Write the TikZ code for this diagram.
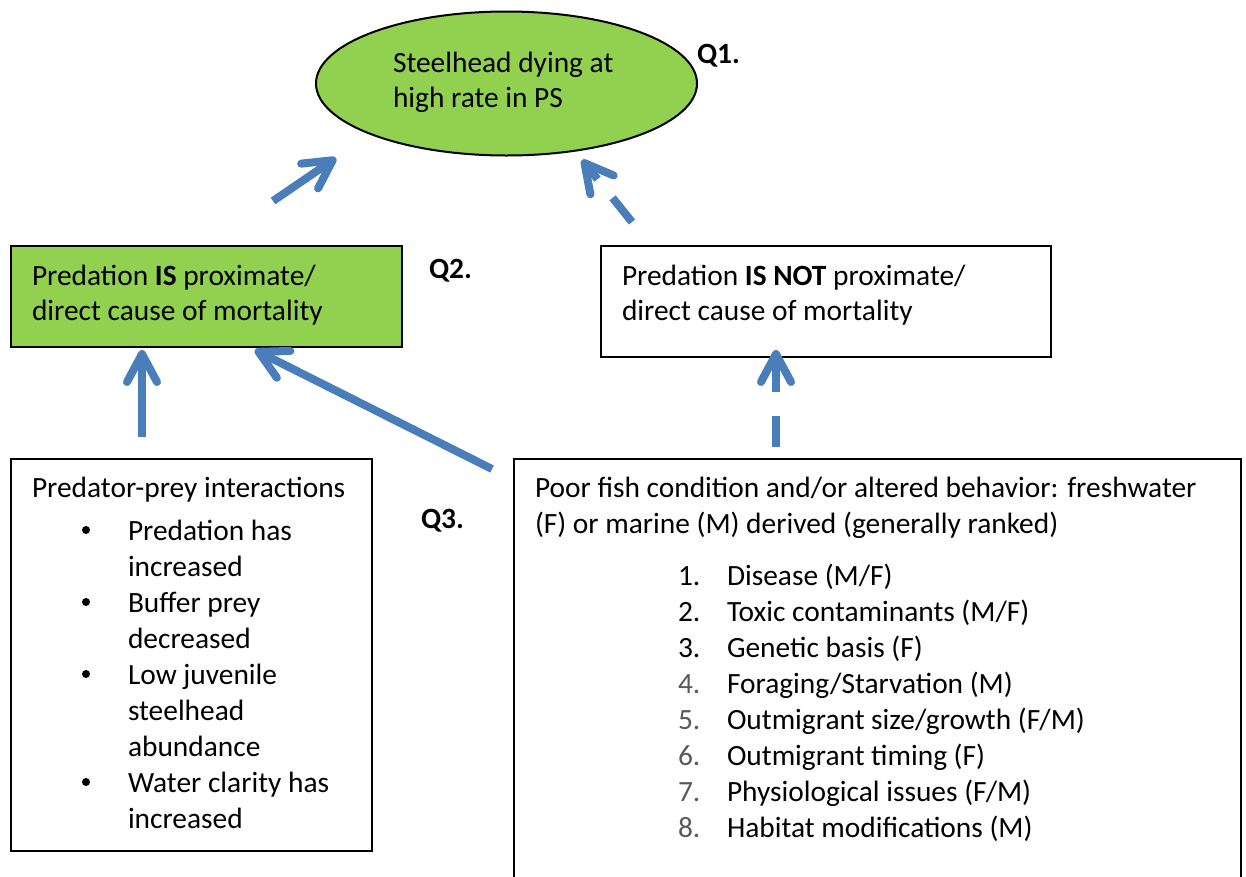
\documentclass[tikz,border=0pt]{standalone}
\usepackage{fontspec}
\setmainfont{Carlito}
\usetikzlibrary{shapes.geometric,arrows.meta}
\definecolor{leafgreen}{HTML}{92D050}
\definecolor{arrowblue}{HTML}{4A7EBB}
\definecolor{numgray}{HTML}{595959}
\tikzset{
  every node/.style={font=\fontsize{29.4}{36}\selectfont, inner sep=0pt, outer sep=0pt},
  txt/.style={anchor=base west},
  qlabel/.style={anchor=base west, font=\fontsize{29.4}{36}\selectfont\bfseries},
  boxframe/.style={draw=black, line width=2pt, rectangle, anchor=north west},
  bigarrow/.style={draw=arrowblue, line width=8pt,
    -{Straight Barb[length=28pt,width=30pt,line width=8pt,round]}},
  dasharrow/.style={bigarrow, dash pattern=on 31pt off 24pt},
}
\begin{document}
\begin{tikzpicture}[x=1pt,y=-1pt]
\clip (0,0) rectangle (1246,876);
\fill[white] (0,0) rectangle (1246,876);

% ellipse
\node[ellipse, draw=black, line width=2pt, fill=leafgreen, minimum width=381pt, minimum height=144pt] (q1) at (506.5,83.5) {};
\node[txt] (q1a) at (393,72) {Steelhead dying at};
\node[txt] (q1b) at (393,107) {high rate in PS};
\node[qlabel] (q1l) at (697,63) {Q1.};

% green box
\node[boxframe, fill=leafgreen, minimum width=391pt, minimum height=101pt] (isbox) at (11,246) {};
\node[txt] (isa) at (32,285) {Predation \textbf{IS} proximate/};
\node[txt] (isb) at (32,320) {direct cause of mortality};
\node[qlabel] (q2l) at (429,278) {Q2.};

% not box
\node[boxframe, fill=white, minimum width=450pt, minimum height=111pt] (notbox) at (601,246) {};
\node[txt] (nota) at (622,285) {Predation \textbf{IS NOT} proximate/};
\node[txt] (notb) at (622,320) {direct cause of mortality};

% predator-prey box
\node[boxframe, minimum width=361pt, minimum height=392pt] (ppbox) at (11,459) {};
\node[txt] (pp0) at (32,497) {Predator-prey interactions};
\foreach \y in {540,612,684,792}{\fill (86,\y-10) circle (4pt);}
\node[txt] (pp1) at (128,540) {Predation has};
\node[txt] (pp2) at (128,576) {increased};
\node[txt] (pp3) at (128,612) {Buffer prey};
\node[txt] (pp4) at (128,648) {decreased};
\node[txt] (pp5) at (128,684) {Low juvenile};
\node[txt] (pp6) at (128,720) {steelhead};
\node[txt] (pp7) at (128,756) {abundance};
\node[txt] (pp8) at (128,792) {Water clarity has};
\node[txt] (pp9) at (128,828) {increased};
\node[qlabel] (q3l) at (421,528) {Q3.};

% poor fish box
\node[boxframe, minimum width=727pt, minimum height=440pt] (fishbox) at (514,459) {};
\node[txt] (pf0) at (535,497) {Poor fish condition and/or altered behavior: freshwater};
\node[txt] (pf1) at (535,533) {(F) or marine (M) derived (generally ranked)};
\node[txt] (n1) at (678,585) {1.};
\node[txt] (n2) at (678,621) {2.};
\node[txt] (n3) at (678,657) {3.};
\node[txt, text=numgray] (n4) at (678,693) {4.};
\node[txt, text=numgray] (n5) at (678,729) {5.};
\node[txt, text=numgray] (n6) at (678,765) {6.};
\node[txt, text=numgray] (n7) at (678,801) {7.};
\node[txt, text=numgray] (n8) at (678,837) {8.};
\node[txt] (l1) at (727,585) {Disease (M/F)};
\node[txt] (l2) at (727,621) {Toxic contaminants (M/F)};
\node[txt] (l3) at (727,657) {Genetic basis (F)};
\node[txt] (l4) at (727,693) {Foraging/Starvation (M)};
\node[txt] (l5) at (727,729) {Outmigrant size/growth (F/M)};
\node[txt] (l6) at (727,765) {Outmigrant timing (F)};
\node[txt] (l7) at (727,801) {Physiological issues (F/M)};
\node[txt] (l8) at (727,837) {Habitat modifications (M)};

% arrow endpoints
\coordinate (a1s) at (273,201);
\coordinate (a1e) at (336,158);
\coordinate (a2s) at (632,222);
\coordinate (a2e) at (582,160);
\coordinate (a3s) at (142,437);
\coordinate (a3e) at (142,350);
\coordinate (a4s) at (492,469);
\coordinate (a4e) at (255,350);
\coordinate (a5s) at (776,447);
\coordinate (a5e) at (776,350);

\draw[bigarrow] (a1s) -- (a1e);
\draw[dasharrow] (a2s) -- (a2e);
\draw[bigarrow] (a3s) -- (a3e);
\draw[bigarrow] (a4s) -- (a4e);
\draw[dasharrow] (a5s) -- (a5e);
\end{tikzpicture}
\end{document}
